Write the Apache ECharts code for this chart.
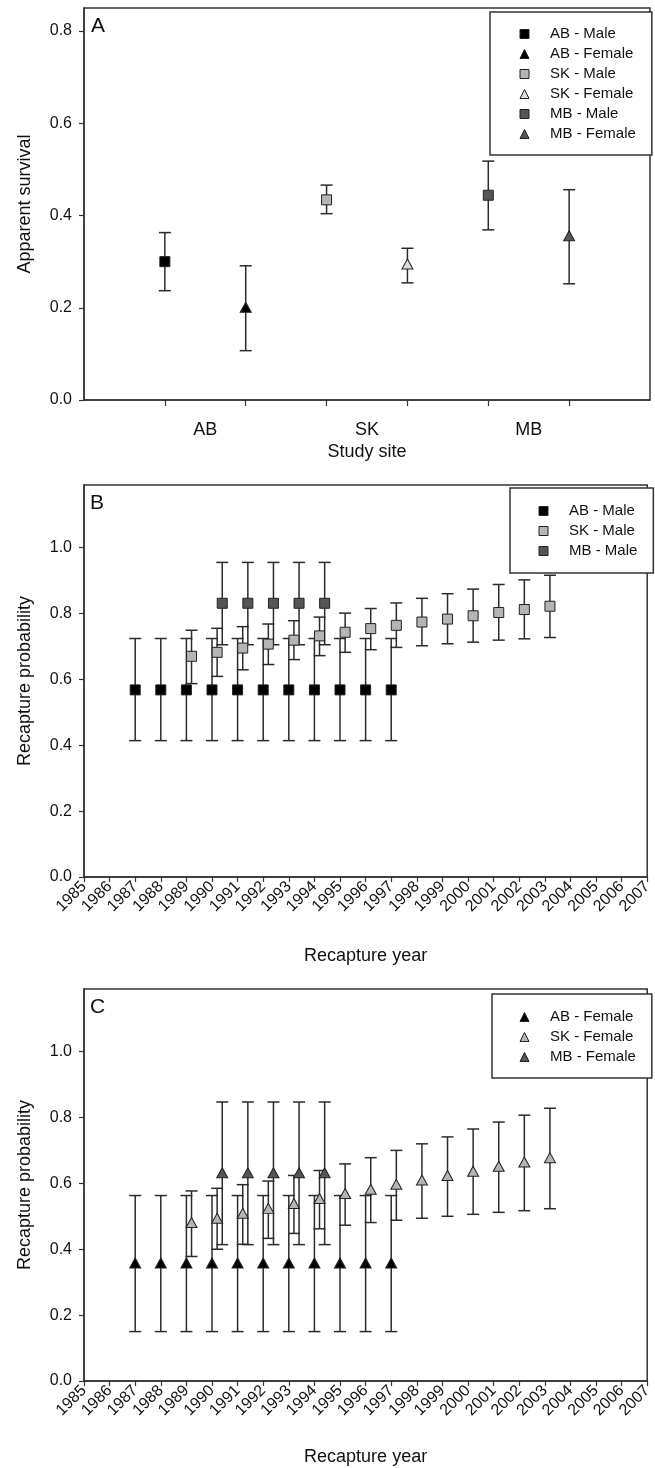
<!DOCTYPE html>
<html>
<head>
<meta charset="utf-8">
<script src="https://cdn.jsdelivr.net/npm/echarts@6/dist/echarts.min.js"></script>
<style>
  html, body { margin: 0; padding: 0; background: #fff; }
  #main { width: 655px; height: 1468px; }
</style>
</head>
<body>
<div id="main"></div>
<script>
// ---- panel A: apparent survival by site and sex ----
const sites = ['AB', 'SK', 'MB'];
const survivalGroups = ['AB - Male', 'AB - Female', 'SK - Male', 'SK - Female', 'MB - Male', 'MB - Female'];
const survivalEst = [0.300, 0.201, 0.434, 0.295, 0.444, 0.356];
const survivalLow = [0.237, 0.107, 0.404, 0.254, 0.369, 0.252];
const survivalHigh = [0.363, 0.291, 0.466, 0.329, 0.518, 0.456];

// ---- panels B and C: recapture probability by year ----
const yearTicks = [1985, 1986, 1987, 1988, 1989, 1990, 1991, 1992, 1993, 1994, 1995, 1996,
  1997, 1998, 1999, 2000, 2001, 2002, 2003, 2004, 2005, 2006, 2007];

const abYears = [1987, 1988, 1989, 1990, 1991, 1992, 1993, 1994, 1995, 1996, 1997];
const skYears = [1989, 1990, 1991, 1992, 1993, 1994, 1995, 1996, 1997, 1998, 1999, 2000, 2001, 2002, 2003];
const mbYears = [1990, 1991, 1992, 1993, 1994];

// males (B)
const abMaleP = [0.568, 0.568, 0.568, 0.568, 0.568, 0.568, 0.568, 0.568, 0.568, 0.568, 0.568];
const abMaleLow = [0.414, 0.414, 0.414, 0.414, 0.414, 0.414, 0.414, 0.414, 0.414, 0.414, 0.414];
const abMaleHigh = [0.724, 0.724, 0.724, 0.724, 0.724, 0.724, 0.724, 0.724, 0.724, 0.724, 0.724];
const skMaleP = [0.670, 0.682, 0.695, 0.707, 0.719, 0.732, 0.743, 0.754, 0.764, 0.774, 0.783, 0.793, 0.803, 0.812, 0.822];
const skMaleLow = [0.587, 0.609, 0.629, 0.645, 0.660, 0.672, 0.682, 0.690, 0.697, 0.702, 0.708, 0.713, 0.719, 0.723, 0.727];
const skMaleHigh = [0.749, 0.755, 0.760, 0.768, 0.778, 0.789, 0.801, 0.815, 0.832, 0.846, 0.860, 0.874, 0.888, 0.902, 0.916];
const mbMaleP = [0.831, 0.831, 0.831, 0.831, 0.831];
const mbMaleLow = [0.705, 0.705, 0.705, 0.705, 0.705];
const mbMaleHigh = [0.955, 0.955, 0.955, 0.955, 0.955];

// females (C)
const abFemaleP = [0.358, 0.358, 0.358, 0.358, 0.358, 0.358, 0.358, 0.358, 0.358, 0.358, 0.358];
const abFemaleLow = [0.150, 0.150, 0.150, 0.150, 0.150, 0.150, 0.150, 0.150, 0.150, 0.150, 0.150];
const abFemaleHigh = [0.563, 0.563, 0.563, 0.563, 0.563, 0.563, 0.563, 0.563, 0.563, 0.563, 0.563];
const skFemaleP = [0.481, 0.494, 0.509, 0.524, 0.539, 0.554, 0.569, 0.582, 0.597, 0.610, 0.624, 0.637, 0.652, 0.665, 0.678];
const skFemaleLow = [0.378, 0.400, 0.415, 0.433, 0.448, 0.462, 0.473, 0.481, 0.488, 0.494, 0.500, 0.506, 0.512, 0.517, 0.523];
const skFemaleHigh = [0.577, 0.585, 0.596, 0.607, 0.624, 0.639, 0.659, 0.678, 0.700, 0.720, 0.741, 0.765, 0.786, 0.807, 0.828];
const mbFemaleP = [0.632, 0.632, 0.632, 0.632, 0.632];
const mbFemaleLow = [0.414, 0.414, 0.414, 0.414, 0.414];
const mbFemaleHigh = [0.847, 0.847, 0.847, 0.847, 0.847];

const yTicksA = [0, 0.2, 0.4, 0.6, 0.8];
const yTicksBC = [0, 0.2, 0.4, 0.6, 0.8, 1.0];

// colours per site
const FONT = '"Liberation Sans", Arial, sans-serif';
const INK = '#222';
const black = '#000000';
const skGrey = '#b5b5b5';
const skPale = '#dcdcdc';
const mbGrey = '#555555';
// horizontal dodge so the sites don't sit on top of each other
const dodge = { AB: 0, SK: 0.2, MB: 0.4 };

const chart = echarts.init(document.getElementById('main'), null, { renderer: 'canvas' });

function errorBars(idx, xs, lows, highs) {
  return {
    type: 'custom',
    xAxisIndex: idx,
    yAxisIndex: idx,
    silent: true,
    z: 2,
    data: xs.map((x, i) => [x, lows[i], highs[i]]),
    encode: { x: 0, y: [1, 2] },
    renderItem: (params, api) => {
      const x = api.value(0);
      const lo = api.coord([x, api.value(1)]);
      const hi = api.coord([x, api.value(2)]);
      const hw = 6;
      const style = { stroke: '#2b2b2b', lineWidth: 1.5 };
      return {
        type: 'group',
        children: [
          { type: 'line', shape: { x1: hi[0], y1: hi[1], x2: lo[0], y2: lo[1] }, style },
          { type: 'line', shape: { x1: hi[0] - hw, y1: hi[1], x2: hi[0] + hw, y2: hi[1] }, style },
          { type: 'line', shape: { x1: lo[0] - hw, y1: lo[1], x2: lo[0] + hw, y2: lo[1] }, style },
        ],
      };
    },
  };
}

function points(idx, name, xs, ys, symbol, color) {
  return {
    type: 'scatter',
    name: name,
    xAxisIndex: idx,
    yAxisIndex: idx,
    z: 5,
    symbol: symbol,
    symbolSize: symbol === 'rect' ? 10 : [11, 10],
    itemStyle: { color: color, borderColor: INK, borderWidth: 1, opacity: 1 },
    data: xs.map((x, i) => [x, ys[i]]),
  };
}

function legendItem(name, icon, color) {
  return { name: name, icon: icon, itemStyle: { color: color, borderColor: INK, borderWidth: 1 } };
}

function legendBox(left, top, padding, items) {
  return {
    orient: 'vertical',
    left: left,
    top: top,
    padding: padding,
    itemWidth: 9,
    itemHeight: 9,
    itemGap: 5,
    selectedMode: false,
    borderColor: '#333',
    borderWidth: 1.5,
    borderRadius: 0,
    backgroundColor: '#fff',
    textStyle: { fontFamily: FONT, fontSize: 15, color: '#111', lineHeight: 15, padding: [0, 0, 0, 16] },
    data: items,
  };
}

function yAxis(idx, max, ticks, name) {
  return {
    type: 'value',
    gridIndex: idx,
    min: 0,
    max: max,
    name: name,
    nameLocation: 'middle',
    nameGap: 50,
    nameMoveOverlap: false,
    nameTextStyle: { fontFamily: FONT, fontSize: 18, color: '#111' },
    axisLine: { show: true, lineStyle: { color: '#333', width: 1.5 } },
    axisTick: { show: true, inside: false, length: 5, customValues: ticks, lineStyle: { color: '#333', width: 1.2 } },
    axisLabel: {
      customValues: ticks,
      margin: 12,
      fontFamily: FONT,
      fontSize: 16,
      color: '#111',
      formatter: (v) => v.toFixed(1),
    },
    splitLine: { show: false },
  };
}

function yearAxis(idx, nameGap) {
  return {
    type: 'value',
    gridIndex: idx,
    min: yearTicks[0],
    max: yearTicks[yearTicks.length - 1],
    interval: 1,
    name: 'Recapture year',
    nameLocation: 'middle',
    nameGap: nameGap,
    nameMoveOverlap: false,
    nameTextStyle: { fontFamily: FONT, fontSize: 18, color: '#111' },
    axisLine: { show: true, lineStyle: { color: '#333', width: 1.5 } },
    axisTick: { show: true, inside: false, length: 5, lineStyle: { color: '#333', width: 1.2 } },
    axisLabel: {
      rotate: 45,
      margin: 7,
      hideOverlap: false,
      showMinLabel: true,
      showMaxLabel: true,
      fontFamily: FONT,
      fontSize: 16,
      color: '#111',
      formatter: (v) => String(v),
    },
    splitLine: { show: false },
  };
}

const gridBase = { left: 84, width: 566, height: 392, show: true, borderColor: '#333', borderWidth: 1.5, backgroundColor: 'transparent' };

const groupX = survivalGroups.map((g, i) => i + 1);
const siteLabelPos = sites.map((s, i) => 2 * i + 1.5);
const groupStyle = [
  ['rect', black], ['triangle', black],
  ['rect', skGrey], ['triangle', skPale],
  ['rect', mbGrey], ['triangle', mbGrey],
];

const seriesA = [];
survivalGroups.forEach((g, i) => {
  seriesA.push(errorBars(0, [groupX[i]], [survivalLow[i]], [survivalHigh[i]]));
  seriesA.push(points(0, g, [groupX[i]], [survivalEst[i]], groupStyle[i][0], groupStyle[i][1]));
});

const xs = (years, site) => years.map((y) => y + dodge[site]);

const option = {
  animation: false,
  backgroundColor: '#fff',
  textStyle: { fontFamily: FONT },
  title: [
    { text: 'A', left: 91, top: 16, padding: 0, textStyle: { fontFamily: FONT, fontSize: 21, fontWeight: 'normal', color: '#111' } },
    { text: 'B', left: 90, top: 493, padding: 0, textStyle: { fontFamily: FONT, fontSize: 21, fontWeight: 'normal', color: '#111' } },
    { text: 'C', left: 90, top: 997, padding: 0, textStyle: { fontFamily: FONT, fontSize: 21, fontWeight: 'normal', color: '#111' } },
  ],
  grid: [
    Object.assign({ top: 8 }, gridBase),
    Object.assign({ top: 485 }, gridBase),
    Object.assign({ top: 989 }, gridBase),
  ],
  xAxis: [
    {
      type: 'value',
      gridIndex: 0,
      min: 0,
      max: survivalGroups.length + 1,
      name: 'Study site',
      nameLocation: 'middle',
      nameGap: 43,
      nameMoveOverlap: false,
      nameTextStyle: { fontFamily: FONT, fontSize: 18, color: '#111' },
      axisLine: { show: true, lineStyle: { color: '#333', width: 1.5 } },
      axisTick: { show: true, inside: false, length: 6, customValues: groupX, lineStyle: { color: '#333', width: 1.2 } },
      axisLabel: {
        customValues: siteLabelPos,
        margin: 21,
        fontFamily: FONT,
        fontSize: 18,
        color: '#111',
        formatter: (v) => sites[Math.round((v - 1.5) / 2)],
      },
      splitLine: { show: false },
    },
    yearAxis(1, 70),
    yearAxis(2, 67),
  ],
  yAxis: [
    yAxis(0, 0.85, yTicksA, 'Apparent survival'),
    yAxis(1, 1.19, yTicksBC, 'Recapture probability'),
    yAxis(2, 1.19, yTicksBC, 'Recapture probability'),
  ],
  legend: [
    legendBox(490, 12, [14.5, 16, 13.5, 29.5], [
      legendItem('AB - Male', 'rect', black),
      legendItem('AB - Female', 'triangle', black),
      legendItem('SK - Male', 'rect', skGrey),
      legendItem('SK - Female', 'triangle', skPale),
      legendItem('MB - Male', 'rect', mbGrey),
      legendItem('MB - Female', 'triangle', mbGrey),
    ]),
    legendBox(510, 488, [15.5, 16, 14.5, 28.5], [
      legendItem('AB - Male', 'rect', black),
      legendItem('SK - Male', 'rect', skGrey),
      legendItem('MB - Male', 'rect', mbGrey),
    ]),
    legendBox(492, 994, [15.5, 16, 13.5, 27.5], [
      legendItem('AB - Female', 'triangle', black),
      legendItem('SK - Female', 'triangle', skGrey),
      legendItem('MB - Female', 'triangle', mbGrey),
    ]),
  ],
  series: seriesA.concat([
    // B: males
    errorBars(1, xs(abYears, 'AB'), abMaleLow, abMaleHigh),
    errorBars(1, xs(skYears, 'SK'), skMaleLow, skMaleHigh),
    errorBars(1, xs(mbYears, 'MB'), mbMaleLow, mbMaleHigh),
    points(1, 'AB - Male', xs(abYears, 'AB'), abMaleP, 'rect', black),
    points(1, 'SK - Male', xs(skYears, 'SK'), skMaleP, 'rect', skGrey),
    points(1, 'MB - Male', xs(mbYears, 'MB'), mbMaleP, 'rect', mbGrey),
    // C: females
    errorBars(2, xs(abYears, 'AB'), abFemaleLow, abFemaleHigh),
    errorBars(2, xs(skYears, 'SK'), skFemaleLow, skFemaleHigh),
    errorBars(2, xs(mbYears, 'MB'), mbFemaleLow, mbFemaleHigh),
    points(2, 'AB - Female', xs(abYears, 'AB'), abFemaleP, 'triangle', black),
    points(2, 'SK - Female', xs(skYears, 'SK'), skFemaleP, 'triangle', skGrey),
    points(2, 'MB - Female', xs(mbYears, 'MB'), mbFemaleP, 'triangle', mbGrey),
  ]),
};

chart.setOption(option);
</script>
</body>
</html>
